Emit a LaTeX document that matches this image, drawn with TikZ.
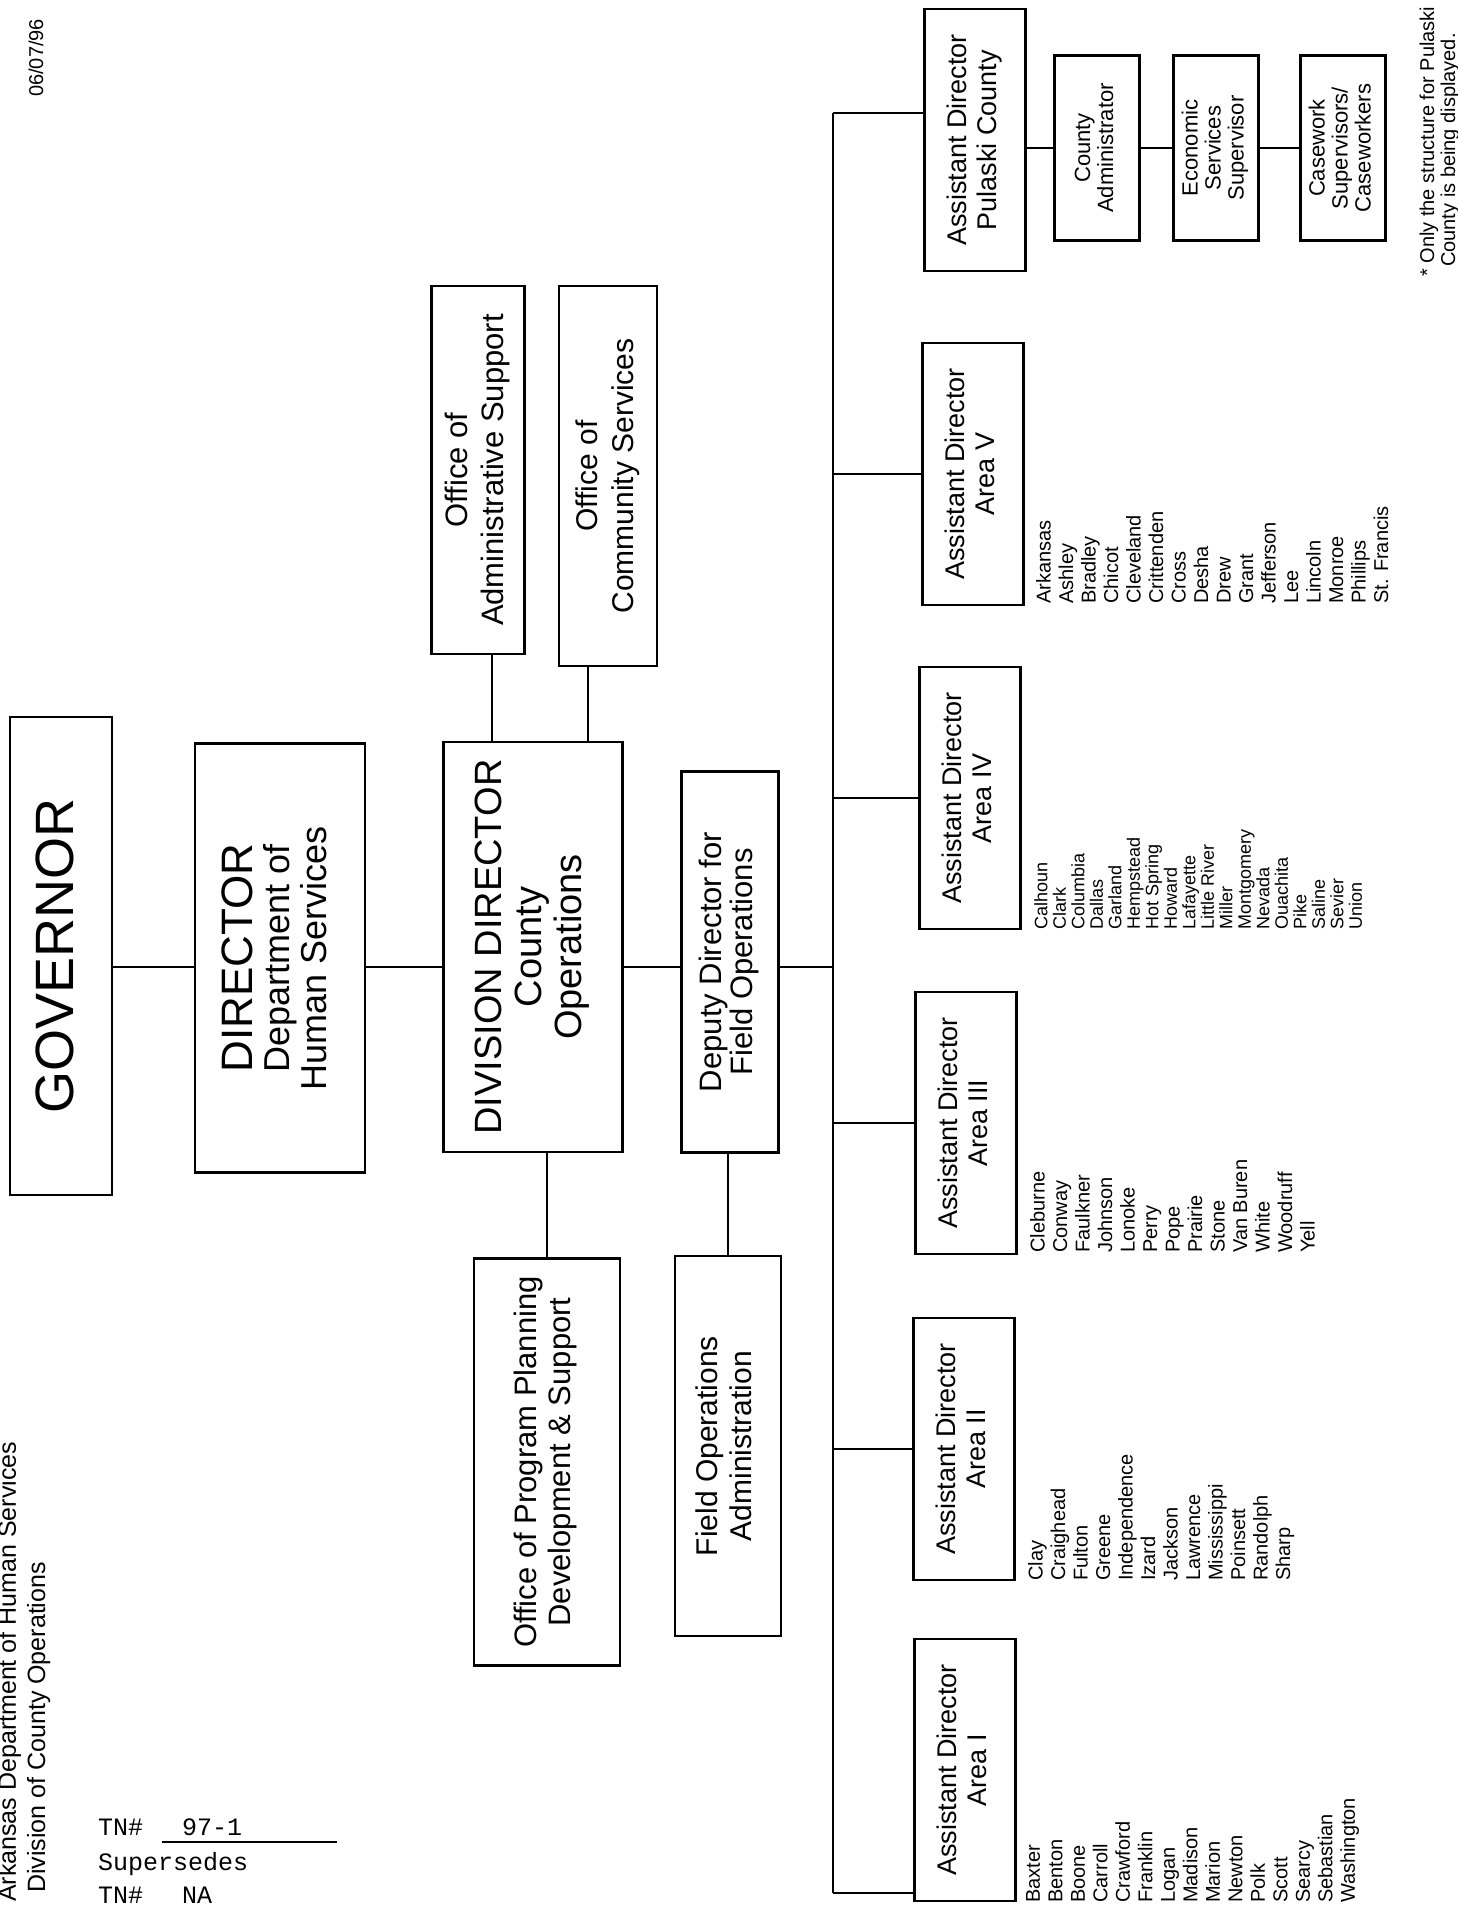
\documentclass[tikz,border=0pt]{standalone}
\usepackage{graphicx}
\usepackage{fontspec}
\setmainfont{Liberation Sans}
\newfontfamily\typewriter{Liberation Mono}

\newcommand{\fs}[2]{\fontsize{#1}{#2}\selectfont}
\newcommand{\vt}[2]{\rotatebox{90}{#1\begin{tabular}{@{}c@{}}#2\end{tabular}}}

\begin{document}
\begin{tikzpicture}[x=1pt, y=-1pt,
    box/.style={draw, line width=2.2pt, inner sep=0pt},
    adbox/.style={box, minimum width=101pt, minimum height=262pt},
    subbox/.style={box, minimum width=85pt, minimum height=185pt},
    link/.style={line width=2.2pt},
    list/.style={rotate=90, anchor=north west, align=left, inner sep=0pt, font=\fs{20}{22.5}},
    note/.style={rotate=90, anchor=base west, inner sep=0pt},
    stamp/.style={anchor=base west, inner sep=0pt, font=\typewriter\fs{25}{30}},
  ]
  \useasboundingbox (0,0) rectangle (1458,1907);

  % page header, date and stamp
  \node[note, font=\fs{25}{30}] (hdrA) at (16,1902) {Arkansas Department of Human Services};
  \node[note, font=\fs{25}{30}] (hdrB) at (45,1893) {Division of County Operations};
  \node[note, font=\fs{20}{22}] (date) at (43,97) {06/07/96};

  \node[stamp] (tnA) at (98,1835) {TN\#};
  \node[stamp] (tnNum) at (182,1835) {97-1};
  \coordinate (ulA) at (162,1842);
  \coordinate (ulB) at (337,1842);
  \draw[line width=1.4pt] (ulA) -- (ulB);
  \node[stamp] (sup) at (98,1870) {Supersedes};
  \node[stamp] (tnB) at (98,1903) {TN\#};
  \node[stamp] (tnNA) at (182,1903) {NA};

  % top of the chart
  \node[box, minimum width=102pt, minimum height=478pt] (gov) at (61,956) {\vt{\fs{54}{60}}{GOVERNOR}};
  \node[box, minimum width=170pt, minimum height=429pt] (dir) at (280,958) {\vt{\fs{36}{37}}{\fs{44}{46}DIRECTOR\\Department of\\Human Services}};
  \node[box, minimum width=179pt, minimum height=410pt] (div) at (533,947) {\vt{\fs{38}{40}}{DIVISION DIRECTOR\\County\\Operations}};
  \node[box, minimum width=97pt, minimum height=381pt] (dep) at (730,962) {\vt{\fs{31}{30}}{Deputy Director for\\Field Operations}};

  \node[box, minimum width=93pt, minimum height=368pt] (oas) at (478,470) {\vt{\fs{31}{36}}{Office of\\Administrative Support}};
  \node[box, minimum width=98pt, minimum height=380pt] (ocs) at (608,476) {\vt{\fs{30}{36}}{Office of\\Community Services}};
  \node[box, minimum width=146pt, minimum height=407pt] (opp) at (547,1462) {\vt{\fs{31}{34}}{Office of Program Planning\\Development \& Support}};
  \node[box, minimum width=106pt, minimum height=380pt] (foa) at (728,1446) {\vt{\fs{30}{34}}{Field Operations\\Administration}};

  % assistant directors
  \node[adbox] (adP) at (975,140) {\vt{\fs{27}{30}}{Assistant Director\\Pulaski County}};
  \node[adbox] (ad5) at (973,474) {\vt{\fs{27}{30}}{Assistant Director\\Area V}};
  \node[adbox] (ad4) at (970,798) {\vt{\fs{27}{30}}{Assistant Director\\Area IV}};
  \node[adbox] (ad3) at (966,1123) {\vt{\fs{27}{30}}{Assistant Director\\Area III}};
  \node[adbox] (ad2) at (964,1449) {\vt{\fs{27}{30}}{Assistant Director\\Area II}};
  \node[adbox] (ad1) at (965,1770) {\vt{\fs{27}{30}}{Assistant Director\\Area I}};

  % Pulaski County
  \node[subbox] (ca) at (1097,148) {\vt{\fs{22}{23}}{County\\Administrator}};
  \node[subbox] (es) at (1216,148) {\vt{\fs{22}{23}}{Economic\\Services\\Supervisor}};
  \node[subbox] (cw) at (1343,148) {\vt{\fs{22}{23}}{Casework\\Supervisors/\\Caseworkers}};

  % counties
  \node[list] (cty1) at (1026,1903) {Baxter\\Benton\\Boone\\Carroll\\Crawford\\Franklin\\Logan\\Madison\\Marion\\Newton\\Polk\\Scott\\Searcy\\Sebastian\\Washington};
  \node[list] (cty2) at (1028,1581) {Clay\\Craighead\\Fulton\\Greene\\Independence\\Izard\\Jackson\\Lawrence\\Mississippi\\Poinsett\\Randolph\\Sharp};
  \node[list] (cty3) at (1030,1253) {Cleburne\\Conway\\Faulkner\\Johnson\\Lonoke\\Perry\\Pope\\Prairie\\Stone\\Van Buren\\White\\Woodruff\\Yell};
  \node[list, font=\fs{18}{18.5}] (cty4) at (1034,930) {Calhoun\\Clark\\Columbia\\Dallas\\Garland\\Hempstead\\Hot Spring\\Howard\\Lafayette\\Little River\\Miller\\Montgomery\\Nevada\\Ouachita\\Pike\\Saline\\Sevier\\Union};
  \node[list] (cty5) at (1036,604) {Arkansas\\Ashley\\Bradley\\Chicot\\Cleveland\\Crittenden\\Cross\\Desha\\Drew\\Grant\\Jefferson\\Lee\\Lincoln\\Monroe\\Phillips\\St. Francis};

  \node[note, font=\fs{20}{22}] (fnA) at (1434,277) {* Only the structure for Pulaski};
  \node[note, font=\fs{20}{22}] (fnB) at (1455,267) {County is being displayed.};

  % connectors
  \coordinate (spine) at (0,967);
  \coordinate (oasLink) at (492,0);
  \coordinate (ocsLink) at (588,0);
  \coordinate (busTop) at (833,113);
  \coordinate (busBot) at (833,1893);
  \draw[link] (gov.east |- spine) -- (dir.west |- spine);
  \draw[link] (dir.east |- spine) -- (div.west |- spine);
  \draw[link] (div.east |- spine) -- (dep.west |- spine);
  \draw[link] (dep.east |- spine) -- (busTop |- spine);
  \draw[link] (oasLink |- oas.south) -- (oasLink |- div.north);
  \draw[link] (ocsLink |- ocs.south) -- (ocsLink |- div.north);
  \draw[link] (div.south -| opp) -- (opp.north);
  \draw[link] (dep.south -| foa) -- (foa.north);

  \draw[link] (busTop) -- (busBot);
  \draw[link] (busTop) -- (busTop -| adP.west);
  \foreach \b in {ad5,ad4,ad3,ad2}
    \draw[link] (\b.west -| busTop) -- (\b.west);
  \draw[link] (busBot) -- (busBot -| ad1.west);

  \draw[link] (adP.east |- ca) -- (ca.west);
  \draw[link] (ca) -- (es);
  \draw[link] (es) -- (cw);
\end{tikzpicture}
\end{document}
